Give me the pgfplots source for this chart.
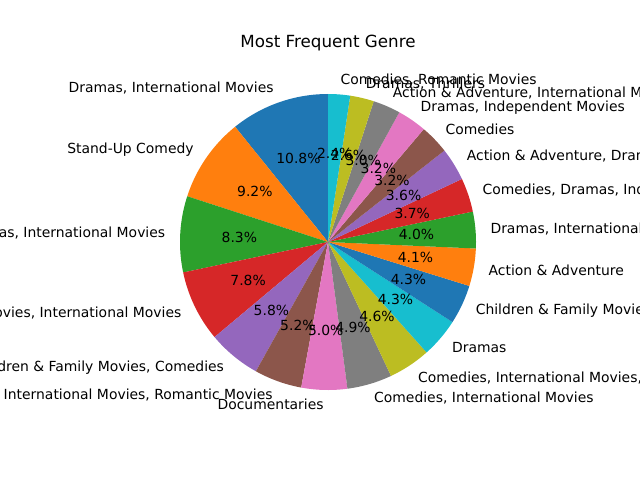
\documentclass[border=0pt]{standalone}
\usepackage{fontspec}
\setmainfont{DejaVu Sans}
\usepackage{pgfplots}
\pgfplotsset{compat=1.18}
% matplotlib tab10
\definecolor{c0}{HTML}{1F77B4}
\definecolor{c1}{HTML}{FF7F0E}
\definecolor{c2}{HTML}{2CA02C}
\definecolor{c3}{HTML}{D62728}
\definecolor{c4}{HTML}{9467BD}
\definecolor{c5}{HTML}{8C564B}
\definecolor{c6}{HTML}{E377C2}
\definecolor{c7}{HTML}{7F7F7F}
\definecolor{c8}{HTML}{BCBD22}
\definecolor{c9}{HTML}{17BECF}
\begin{document}
\begin{tikzpicture}[lbl/.style={font=\fontsize{9.9}{11}\selectfont, inner sep=0pt}]
\useasboundingbox (0,0) rectangle (16,12);
\clip (0,0) rectangle (16,12);
\begin{axis}[at={(0,0)}, anchor=south west, scale only axis, width=16cm, height=12cm,
  xmin=0, xmax=640, ymin=0, ymax=480, hide axis, clip=false]
\def\cx{328}\def\cy{238}\def\pieR{148}
\gdef\acc{90}
\foreach \p/\lab [count=\i] in {
  10.8/{Dramas, International Movies},
  9.2/{Stand-Up Comedy},
  8.3/{Comedies, Dramas, International Movies},
  7.8/{Dramas, Independent Movies, International Movies},
  5.8/{Children \& Family Movies, Comedies},
  5.2/{Dramas, International Movies, Romantic Movies},
  5.0/{Documentaries},
  4.9/{Comedies, International Movies},
  4.6/{Comedies, International Movies, Romantic Movies},
  4.3/{Dramas},
  4.3/{Children \& Family Movies},
  4.1/{Action \& Adventure},
  4.0/{Dramas, International Movies, Thrillers},
  3.7/{Comedies, Dramas, Independent Movies},
  3.6/{Action \& Adventure, Dramas},
  3.2/{Comedies},
  3.2/{Dramas, Independent Movies},
  3.0/{Action \& Adventure, International Movies},
  2.6/{Dramas, Thrillers},
  2.4/{Comedies, Romantic Movies}}{
  \pgfmathsetmacro\a{\acc}
  \pgfmathsetmacro\b{\acc+3.6*\p}
  \pgfmathsetmacro\m{(\a+\b)/2}
  \pgfmathtruncatemacro\ci{mod(\i-1,10)}
  \pgfmathsetmacro\lx{\cx+1.1*\pieR*cos(\m)}
  \pgfmathsetmacro\ly{\cy+1.1*\pieR*sin(\m)}
  \pgfmathparse{cos(\m)>0 ? 1 : 0}
  \ifdim\pgfmathresult pt>0.5pt \def\anc{west}\else\def\anc{east}\fi
  \edef\cmd{%
    \noexpand\fill[c\ci] (axis cs:\cx,\cy) -- plot[domain=\a:\b, samples=40]
      (axis cs:{\cx+\pieR*cos(\noexpand\x)},{\cy+\pieR*sin(\noexpand\x)}) -- cycle;
    \noexpand\node[lbl, anchor=\anc] at (axis cs:\lx,\ly) {\expandafter\unexpanded\expandafter{\lab}};
  }
  \cmd
  \xdef\acc{\b}
}
% percentages drawn afterwards so wedges do not cover them
\gdef\acc{90}
\foreach \p [count=\i] in {10.8,9.2,8.3,7.8,5.8,5.2,5.0,4.9,4.6,4.3,4.3,4.1,4.0,3.7,3.6,3.2,3.2,3.0,2.6,2.4}{
  \pgfmathsetmacro\m{\acc+1.8*\p}
  \pgfmathsetmacro\px{\cx+0.6*\pieR*cos(\m)}
  \pgfmathsetmacro\py{\cy+0.6*\pieR*sin(\m)}
  \edef\cmd{\noexpand\node[lbl] at (axis cs:\px,\py) {\p\noexpand\%};}
  \cmd
  \pgfmathsetmacro\b{\acc+3.6*\p}
  \xdef\acc{\b}
}
\node[font=\fontsize{11.9}{14}\selectfont] at (axis cs:328,437) {Most Frequent Genre};
\end{axis}
\end{tikzpicture}
\end{document}
